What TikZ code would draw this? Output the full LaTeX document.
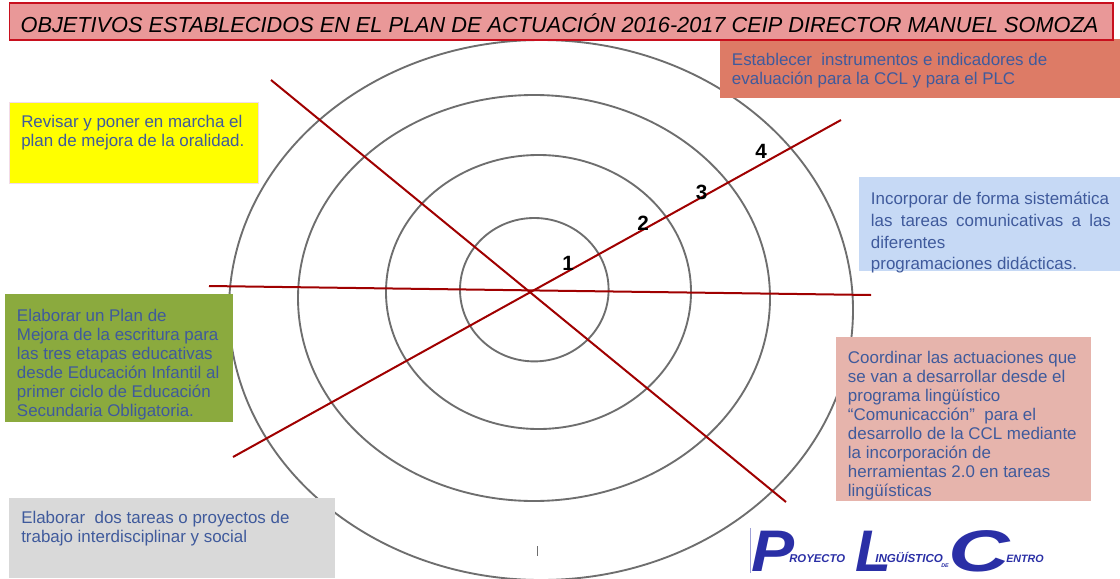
\documentclass[tikz,border=0pt]{standalone}
\usepackage{fontspec}
\setmainfont{Liberation Sans}
\definecolor{titlefill}{HTML}{E99898}
\definecolor{titleline}{HTML}{C8101E}
\definecolor{textblue}{HTML}{3F5A9C}
\definecolor{ringgray}{HTML}{6E6E6E}
\definecolor{axisred}{HTML}{A00000}
\definecolor{logoblue}{HTML}{2A2FA6}
\definecolor{oralfill}{HTML}{FFFF00}
\newcommand{\boxfont}{\fontsize{12.7}{14.25}\selectfont}
\newcommand{\logofont}[1]{\fontsize{#1}{#1}\selectfont\bfseries\itshape}

\begin{document}
\begin{tikzpicture}[x=0.75pt,y=-0.75pt,
  ring/.style={draw=ringgray,line width=1.4pt},
  axis/.style={draw=axisred,line width=1.5pt},
  boxtext/.style={anchor=north west,inner sep=0pt,align=left,text=textblue,font=\boxfont},
  number/.style={inner sep=0pt,font=\fontsize{15.5}{15.5}\selectfont\bfseries},
  logotext/.style={inner sep=0pt,text=logoblue}]
\useasboundingbox (0,0) rectangle (1120,578);
\clip (0,0) rectangle (1120,578);
\fill[white] (0,0) rectangle (1120,578);
\draw[ring] (534.3,289.7) ellipse (74.3 and 71.7);
\draw[ring] (538.5,292) ellipse (152.5 and 137);
\draw[ring] (534,298) ellipse (236 and 203);
\draw[ring] (541,310) ellipse (312 and 270);
\coordinate (A1) at (271,80);
\coordinate (A2) at (786,502);
\coordinate (B1) at (233,457);
\coordinate (B2) at (841,120);
\coordinate (C1) at (209,286);
\coordinate (C2) at (871,295);
\draw[axis] (A1) -- (A2);
\draw[axis] (B1) -- (B2);
\draw[axis] (C1) -- (C2);
\node[number] (n1) at (568,263.5) {1};
\node[number] (n2) at (643,223.5) {2};
\node[number] (n3) at (701.5,192.5) {3};
\node[number] (n4) at (761,151.5) {4};
\draw[ringgray,line width=0.6pt] (537.5,546) -- (537.5,556);
\fill[fill={rgb,255:red,221;green,123;blue,102}] (720,39) rectangle (1120,98);
\draw[draw={rgb,255:red,242;green,220;blue,232},fill=oralfill,line width=0.8pt] (9.5,102.5) rectangle (258.5,183.5);
\fill[fill={rgb,255:red,198;green,217;blue,245}] (859,177) rectangle (1120,271);
\fill[fill={rgb,255:red,139;green,170;blue,62}] (5,294) rectangle (233,422);
\fill[fill={rgb,255:red,230;green,180;blue,172}] (836,337) rectangle (1091,501);
\fill[fill={rgb,255:red,217;green,217;blue,217}] (9,498) rectangle (335,578);
\draw[draw=titleline,fill=titlefill,line width=0.9pt] (9.5,3) rectangle (1113,40);
\node[anchor=base,inner sep=0pt,font=\fontsize{16.3}{16.3}\selectfont\itshape] (title) at (559.5,32.7)
  {OBJETIVOS ESTABLECIDOS EN EL PLAN DE ACTUACIÓN 2016-2017 CEIP DIRECTOR MANUEL SOMOZA};
\node[boxtext] (indicadores) at (731.7,53) {Establecer\ \ instrumentos e indicadores de\\evaluación para la CCL y para el PLC};
\node[boxtext] (oralidad) at (21,115) {Revisar y poner en marcha el\\plan de mejora de la oralidad.};
\node[boxtext,font=\fontsize{12.7}{16.3}\selectfont] (tareas) at (870.7,192) {Incorporar de forma sistemática\\\makebox[180pt][s]{las tareas comunicativas a las}\\diferentes\\programaciones didácticas.};
\node[boxtext] (escritura) at (16.7,309) {Elaborar un Plan de\\Mejora de la escritura para\\las tres etapas educativas\\desde Educación Infantil al\\primer ciclo de Educación\\Secundaria Obligatoria.};
\node[boxtext] (coordinar) at (847.7,350.5) {Coordinar las actuaciones que\\se van a desarrollar desde el\\programa lingüístico\\“Comunicacción”\ \ para el\\desarrollo de la CCL mediante\\la incorporación de\\herramientas 2.0 en tareas\\lingüísticas};
\node[boxtext] (proyectos) at (21,511) {Elaborar\ \ dos tareas o proyectos de\\trabajo interdisciplinar y social};
\draw[logoblue!45,line width=0.5pt] (750.5,528) -- (750.5,573);
\node[logotext,anchor=base west,font=\logofont{44}] (logoP) at (751,571) {\scalebox{1.1}[1]{P}};
\node[logotext,anchor=base west,font=\logofont{8.5}] (logoR) at (789,562) {ROYECTO};
\node[logotext,anchor=base west,font=\logofont{44}] (logoL) at (855,571) {L};
\node[logotext,anchor=base west,font=\logofont{8.7}] (logoI) at (875,562) {INGÜÍSTICO};
\node[logotext,anchor=base west,font=\logofont{4}] (logoD) at (941,567) {DE};
\node[logotext,anchor=base west,font=\logofont{44}] (logoC) at (948,571) {\scalebox{1.45}[1]{C}};
\node[logotext,anchor=base west,font=\logofont{8}] (logoE) at (1006,562) {ENTRO};
\end{tikzpicture}
\end{document}
